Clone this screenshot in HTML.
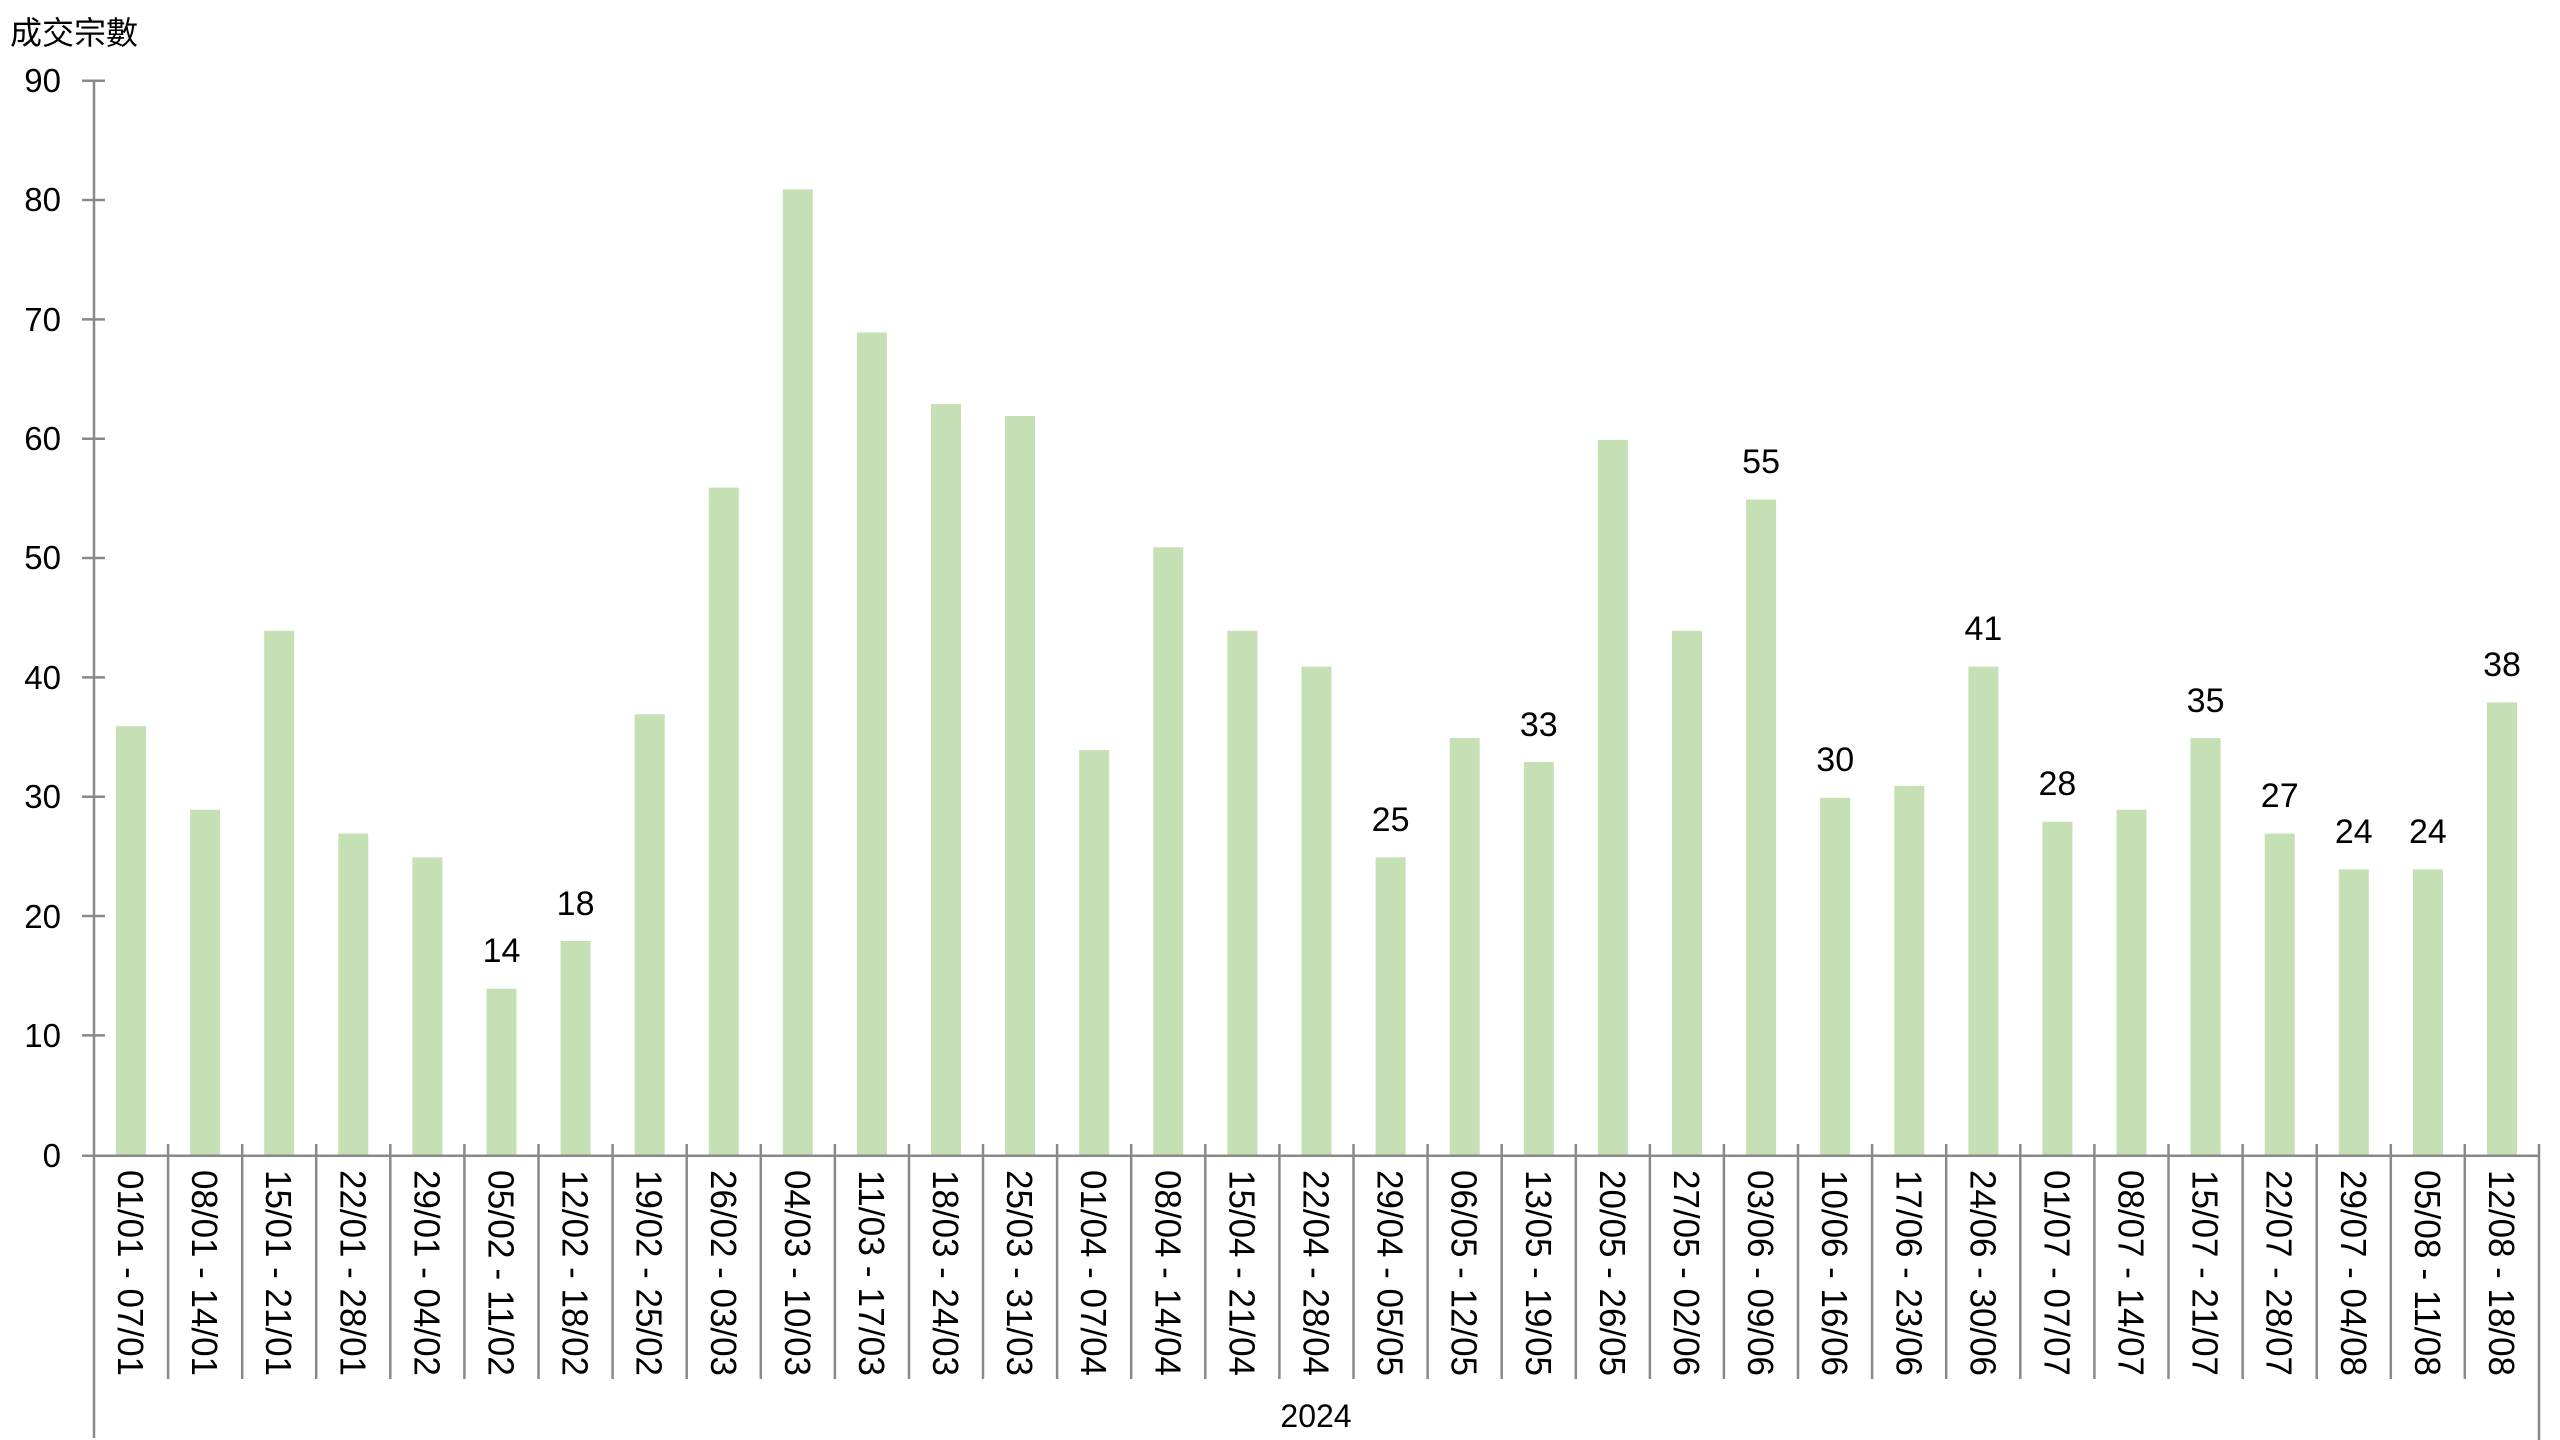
<!DOCTYPE html>
<html><head><meta charset="utf-8"><style>
html,body{margin:0;padding:0;background:#fff;}
svg{display:block;}
text{font-family:"Liberation Sans","Noto Sans CJK TC",sans-serif;fill:#000;}
</style></head><body>
<svg width="2560" height="1440" viewBox="0 0 2560 1440" xmlns="http://www.w3.org/2000/svg">
<text x="10" y="44" font-size="32" font-family="Liberation Sans, Noto Sans CJK TC, sans-serif">成交宗數</text>
<g font-size="33" text-anchor="end">
<text x="61" y="92">90</text><text x="61" y="211">80</text><text x="61" y="331">70</text><text x="61" y="450">60</text><text x="61" y="569">50</text><text x="61" y="689">40</text><text x="61" y="808">30</text><text x="61" y="928">20</text><text x="61" y="1047">10</text><text x="61" y="1167">0</text>
</g>
<g fill="#c5e0b4">
<rect x="116" y="726.2" width="30" height="429.5"/>
<rect x="190.1" y="809.7" width="30" height="346"/>
<rect x="264.2" y="630.8" width="30" height="524.9"/>
<rect x="338.3" y="833.6" width="30" height="322.1"/>
<rect x="412.4" y="857.4" width="30" height="298.3"/>
<rect x="486.5" y="988.7" width="30" height="167"/>
<rect x="560.6" y="941" width="30" height="214.7"/>
<rect x="634.7" y="714.3" width="30" height="441.4"/>
<rect x="708.8" y="487.6" width="30" height="668.1"/>
<rect x="782.8" y="189.4" width="30" height="966.3"/>
<rect x="856.9" y="332.5" width="30" height="823.2"/>
<rect x="931" y="404.1" width="30" height="751.6"/>
<rect x="1005.1" y="416" width="30" height="739.7"/>
<rect x="1079.2" y="750.1" width="30" height="405.6"/>
<rect x="1153.3" y="547.3" width="30" height="608.4"/>
<rect x="1227.4" y="630.8" width="30" height="524.9"/>
<rect x="1301.5" y="666.6" width="30" height="489.1"/>
<rect x="1375.6" y="857.4" width="30" height="298.3"/>
<rect x="1449.7" y="738.1" width="30" height="417.6"/>
<rect x="1523.8" y="762" width="30" height="393.7"/>
<rect x="1597.9" y="439.9" width="30" height="715.8"/>
<rect x="1672" y="630.8" width="30" height="524.9"/>
<rect x="1746.1" y="499.5" width="30" height="656.2"/>
<rect x="1820.2" y="797.8" width="30" height="357.9"/>
<rect x="1894.3" y="785.9" width="30" height="369.8"/>
<rect x="1968.4" y="666.6" width="30" height="489.1"/>
<rect x="2042.4" y="821.7" width="30" height="334"/>
<rect x="2116.5" y="809.7" width="30" height="346"/>
<rect x="2190.6" y="738.1" width="30" height="417.6"/>
<rect x="2264.7" y="833.6" width="30" height="322.1"/>
<rect x="2338.8" y="869.4" width="30" height="286.3"/>
<rect x="2412.9" y="869.4" width="30" height="286.3"/>
<rect x="2487" y="702.4" width="30" height="453.3"/>
</g>
<g font-size="34" text-anchor="middle">
<text x="501.5" y="962">14</text>
<text x="575.6" y="915">18</text>
<text x="1390.6" y="831">25</text>
<text x="1538.8" y="736">33</text>
<text x="1761.1" y="473">55</text>
<text x="1835.2" y="771">30</text>
<text x="1983.4" y="640">41</text>
<text x="2057.4" y="795">28</text>
<text x="2205.6" y="712">35</text>
<text x="2279.7" y="807">27</text>
<text x="2353.8" y="843">24</text>
<text x="2427.9" y="843">24</text>
<text x="2502" y="676">38</text>
</g>
<g stroke="#898989" stroke-width="2.5" fill="none">
<line x1="94" y1="80" x2="94" y2="1438"/>
<line x1="82" y1="80.7" x2="105" y2="80.7"/>
<line x1="82" y1="200" x2="105" y2="200"/>
<line x1="82" y1="319.4" x2="105" y2="319.4"/>
<line x1="82" y1="438.7" x2="105" y2="438.7"/>
<line x1="82" y1="558" x2="105" y2="558"/>
<line x1="82" y1="677.4" x2="105" y2="677.4"/>
<line x1="82" y1="796.7" x2="105" y2="796.7"/>
<line x1="82" y1="916" x2="105" y2="916"/>
<line x1="82" y1="1035.4" x2="105" y2="1035.4"/>
<line x1="82" y1="1155.7" x2="2539" y2="1155.7"/>
<line x1="2539" y1="1144" x2="2539" y2="1440"/>
<path d="M168.1 1144V1379M242.2 1144V1379M316.2 1144V1379M390.3 1144V1379M464.4 1144V1379M538.5 1144V1379M612.6 1144V1379M686.7 1144V1379M760.8 1144V1379M834.9 1144V1379M909 1144V1379M983 1144V1379M1057.1 1144V1379M1131.2 1144V1379M1205.3 1144V1379M1279.4 1144V1379M1353.5 1144V1379M1427.6 1144V1379M1501.7 1144V1379M1575.8 1144V1379M1649.9 1144V1379M1723.9 1144V1379M1798 1144V1379M1872.1 1144V1379M1946.2 1144V1379M2020.3 1144V1379M2094.4 1144V1379M2168.5 1144V1379M2242.6 1144V1379M2316.7 1144V1379M2390.8 1144V1379M2464.8 1144V1379"/>
</g>
<g font-size="36">
<text transform="translate(131,1170) rotate(90)" y="13" textLength="206" lengthAdjust="spacingAndGlyphs">01/01 - 07/01</text>
<text transform="translate(205.1,1170) rotate(90)" y="13" textLength="206" lengthAdjust="spacingAndGlyphs">08/01 - 14/01</text>
<text transform="translate(279.2,1170) rotate(90)" y="13" textLength="206" lengthAdjust="spacingAndGlyphs">15/01 - 21/01</text>
<text transform="translate(353.3,1170) rotate(90)" y="13" textLength="206" lengthAdjust="spacingAndGlyphs">22/01 - 28/01</text>
<text transform="translate(427.4,1170) rotate(90)" y="13" textLength="206" lengthAdjust="spacingAndGlyphs">29/01 - 04/02</text>
<text transform="translate(501.5,1170) rotate(90)" y="13" textLength="206" lengthAdjust="spacingAndGlyphs">05/02 - 11/02</text>
<text transform="translate(575.6,1170) rotate(90)" y="13" textLength="206" lengthAdjust="spacingAndGlyphs">12/02 - 18/02</text>
<text transform="translate(649.7,1170) rotate(90)" y="13" textLength="206" lengthAdjust="spacingAndGlyphs">19/02 - 25/02</text>
<text transform="translate(723.8,1170) rotate(90)" y="13" textLength="206" lengthAdjust="spacingAndGlyphs">26/02 - 03/03</text>
<text transform="translate(797.8,1170) rotate(90)" y="13" textLength="206" lengthAdjust="spacingAndGlyphs">04/03 - 10/03</text>
<text transform="translate(871.9,1170) rotate(90)" y="13" textLength="206" lengthAdjust="spacingAndGlyphs">11/03 - 17/03</text>
<text transform="translate(946,1170) rotate(90)" y="13" textLength="206" lengthAdjust="spacingAndGlyphs">18/03 - 24/03</text>
<text transform="translate(1020.1,1170) rotate(90)" y="13" textLength="206" lengthAdjust="spacingAndGlyphs">25/03 - 31/03</text>
<text transform="translate(1094.2,1170) rotate(90)" y="13" textLength="206" lengthAdjust="spacingAndGlyphs">01/04 - 07/04</text>
<text transform="translate(1168.3,1170) rotate(90)" y="13" textLength="206" lengthAdjust="spacingAndGlyphs">08/04 - 14/04</text>
<text transform="translate(1242.4,1170) rotate(90)" y="13" textLength="206" lengthAdjust="spacingAndGlyphs">15/04 - 21/04</text>
<text transform="translate(1316.5,1170) rotate(90)" y="13" textLength="206" lengthAdjust="spacingAndGlyphs">22/04 - 28/04</text>
<text transform="translate(1390.6,1170) rotate(90)" y="13" textLength="206" lengthAdjust="spacingAndGlyphs">29/04 - 05/05</text>
<text transform="translate(1464.7,1170) rotate(90)" y="13" textLength="206" lengthAdjust="spacingAndGlyphs">06/05 - 12/05</text>
<text transform="translate(1538.8,1170) rotate(90)" y="13" textLength="206" lengthAdjust="spacingAndGlyphs">13/05 - 19/05</text>
<text transform="translate(1612.9,1170) rotate(90)" y="13" textLength="206" lengthAdjust="spacingAndGlyphs">20/05 - 26/05</text>
<text transform="translate(1687,1170) rotate(90)" y="13" textLength="206" lengthAdjust="spacingAndGlyphs">27/05 - 02/06</text>
<text transform="translate(1761.1,1170) rotate(90)" y="13" textLength="206" lengthAdjust="spacingAndGlyphs">03/06 - 09/06</text>
<text transform="translate(1835.2,1170) rotate(90)" y="13" textLength="206" lengthAdjust="spacingAndGlyphs">10/06 - 16/06</text>
<text transform="translate(1909.3,1170) rotate(90)" y="13" textLength="206" lengthAdjust="spacingAndGlyphs">17/06 - 23/06</text>
<text transform="translate(1983.4,1170) rotate(90)" y="13" textLength="206" lengthAdjust="spacingAndGlyphs">24/06 - 30/06</text>
<text transform="translate(2057.4,1170) rotate(90)" y="13" textLength="206" lengthAdjust="spacingAndGlyphs">01/07 - 07/07</text>
<text transform="translate(2131.5,1170) rotate(90)" y="13" textLength="206" lengthAdjust="spacingAndGlyphs">08/07 - 14/07</text>
<text transform="translate(2205.6,1170) rotate(90)" y="13" textLength="206" lengthAdjust="spacingAndGlyphs">15/07 - 21/07</text>
<text transform="translate(2279.7,1170) rotate(90)" y="13" textLength="206" lengthAdjust="spacingAndGlyphs">22/07 - 28/07</text>
<text transform="translate(2353.8,1170) rotate(90)" y="13" textLength="206" lengthAdjust="spacingAndGlyphs">29/07 - 04/08</text>
<text transform="translate(2427.9,1170) rotate(90)" y="13" textLength="206" lengthAdjust="spacingAndGlyphs">05/08 - 11/08</text>
<text transform="translate(2502,1170) rotate(90)" y="13" textLength="206" lengthAdjust="spacingAndGlyphs">12/08 - 18/08</text>
</g>
<text x="1316" y="1427" font-size="32" text-anchor="middle">2024</text>
</svg>
</body></html>
